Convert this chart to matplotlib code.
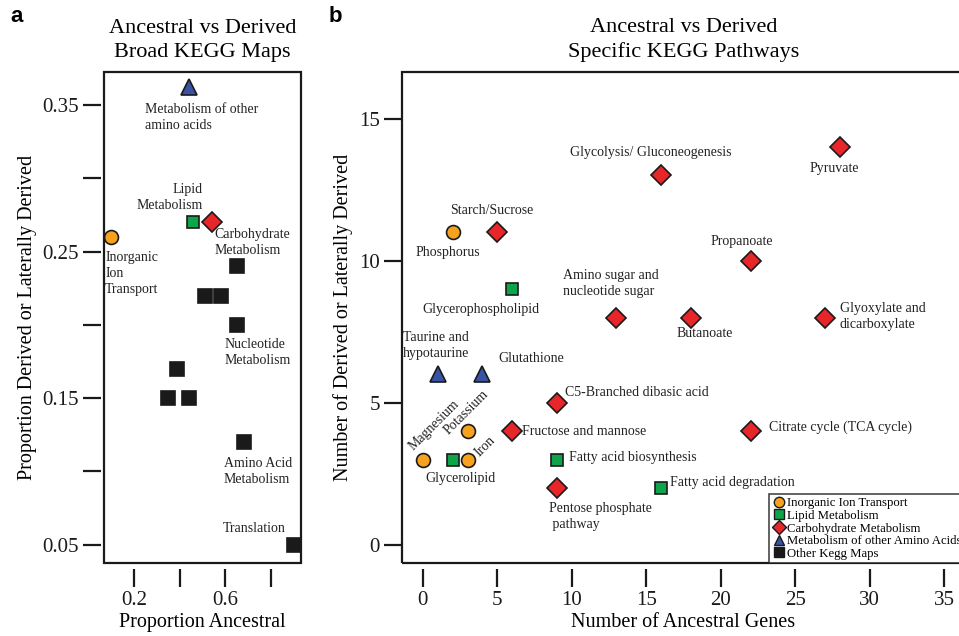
import matplotlib.pyplot as plt
from matplotlib.lines import Line2D
from matplotlib.patches import Rectangle

plt.rcParams['font.family'] = ['Liberation Serif', 'DejaVu Serif']

# colours per category
cat_colors = {'ion': '#F7A21E', 'lipid': '#0DA44A', 'carb': '#E8262A',
              'amino': '#3953A4', 'other': '#1A1A1A'}
cat_markers = {'ion': 'o', 'lipid': 's', 'carb': 'D', 'amino': '^', 'other': 's'}
cat_sizes = {'ion': 10, 'lipid': 9, 'carb': 10, 'amino': 12, 'other': 10}

# ---- panel a : broad KEGG maps ----
a_x = [0.10, 0.44, 0.46, 0.54, 0.65, 0.51, 0.58, 0.65, 0.39, 0.35, 0.44, 0.68, 0.90]
a_y = [0.26, 0.362, 0.27, 0.27, 0.24, 0.22, 0.22, 0.20, 0.17, 0.15, 0.15, 0.12, 0.05]
a_cat = ['ion', 'amino', 'lipid', 'carb', 'other', 'other', 'other', 'other',
         'other', 'other', 'other', 'other', 'other']
a_lab = ['Inorganic\nIon\nTransport', 'Metabolism of other\namino acids',
         'Lipid\nMetabolism', 'Carbohydrate\nMetabolism', '', '', '',
         'Nucleotide\nMetabolism', '', '', '', 'Amino Acid\nMetabolism', 'Translation']
# label offsets (pixels) and alignment
a_off = [(-6, -37, 'left'), (-44, -30, 'left'), (9, 25, 'right'), (3, -20, 'left'),
         None, None, None, (-12, -28, 'left'), None, None, None, (-20, -29, 'left'),
         (-71, 16, 'left')]

# ---- panel b : specific KEGG pathways ----
b_x = [28, 16, 5, 2, 22, 6, 13, 18, 27, 1, 4, 9, 6, 22, 3, 0, 3, 2, 9, 9, 16]
b_y = [14, 13, 11, 11, 10, 9, 8, 8, 8, 6, 6, 5, 4, 4, 4, 3, 3, 3, 3, 2, 2]
b_cat = ['carb', 'carb', 'carb', 'ion', 'carb', 'lipid', 'carb', 'carb', 'carb',
         'amino', 'amino', 'carb', 'carb', 'carb', 'ion', 'ion', 'ion', 'lipid',
         'lipid', 'carb', 'lipid']
b_lab = ['Pyruvate', 'Glycolysis/ Gluconeogenesis', 'Starch/Sucrose', 'Phosphorus',
         'Propanoate', 'Glycerophospholipid', 'Amino sugar and\nnucleotide sugar',
         'Butanoate', 'Glyoxylate and\ndicarboxylate', 'Taurine and\nhypotaurine',
         'Glutathione', 'C5-Branched dibasic acid', 'Fructose and mannose',
         'Citrate cycle (TCA cycle)', 'Potassium', 'Magnesium', 'Iron', 'Glycerolipid',
         'Fatty acid biosynthesis', 'Pentose phosphate\n pathway', 'Fatty acid degradation']
b_off = [(-6, -21, 'center', 0), (-10, 23, 'center', 0), (-6, 22, 'center', 0),
         (-5, -20, 'center', 0), (-9, 19, 'center', 0), (-31, -20, 'center', 0),
         (-53, 34, 'left', 0), (14, -16, 'center', 0), (15, 1, 'left', 0),
         (-35, 29, 'left', 0), (16, 16, 'left', 0), (8, 10, 'left', 0),
         (10, 0, 'left', 0), (18, 4, 'left', 0), (-1, 19, 'center', 45),
         (11, 34, 'center', 45), (18, 13, 'center', 45), (8, -19, 'center', 0),
         (12, 2, 'left', 0), (-8, -29, 'left', 0), (9, 5, 'left', 0)]

legend_names = ['Inorganic Ion Transport', 'Lipid Metabolism', 'Carbohydrate Metabolism',
                'Metabolism of other Amino Acids', 'Other Kegg Maps']
legend_cats = ['ion', 'lipid', 'carb', 'amino', 'other']


def draw_points(ax, xs, ys, cats):
    for x, y, c in zip(xs, ys, cats):
        ax.plot(x, y, marker=cat_markers[c], ms=cat_sizes[c], color=cat_colors[c],
                mec='#1a1a1a', mew=1.2, ls='none', zorder=3)


def style_axes(ax):
    for s in ax.spines.values():
        s.set_color('none')
    ax.spines['bottom'].set_position(('outward', 4))
    ax.spines['left'].set_position(('outward', 2))
    ax.add_patch(Rectangle((0, 0), 1, 1, transform=ax.transAxes, fill=False,
                           lw=1.6, ec='#1a1a1a', clip_on=False, zorder=5))
    ax.tick_params(direction='out', length=13, width=1.6, labelsize=15,
                   colors='#1a1a1a', pad=3)


fig = plt.figure(figsize=(9.59, 6.36), dpi=100)
ax1 = fig.add_axes([104 / 959, 73 / 636, 197 / 959, 491 / 636])
ax2 = fig.add_axes([402 / 959, 73 / 636, 563 / 959, 491 / 636])

# panel a
draw_points(ax1, a_x, a_y, a_cat)
for x, y, lab, off in zip(a_x, a_y, a_lab, a_off):
    if off is None:
        continue
    ax1.annotate(lab, (x, y), xytext=(off[0], off[1]), textcoords='offset pixels',
                 ha=off[2], va='center', fontsize=10, color='#222222',
                 linespacing=1.3, multialignment=off[2])
ax1.set_xlim(0.068, 0.932)
ax1.set_ylim(0.0376, 0.3724)
style_axes(ax1)
ax1.set_xticks([0.2, 0.4, 0.6, 0.8])
ax1.set_xticklabels(['0.2', '', '0.6', ''])
ax1.set_yticks([0.05, 0.10, 0.15, 0.20, 0.25, 0.30, 0.35])
ax1.set_yticklabels(['0.05', '', '0.15', '', '0.25', '', '0.35'])
ax1.set_xlabel('Proportion Ancestral', fontsize=14.5, labelpad=2)
ax1.set_ylabel('Proportion Derived or Laterally Derived', fontsize=14.5, labelpad=4)
ax1.set_title('Ancestral vs Derived\nBroad KEGG Maps', fontsize=16, pad=11,
              linespacing=1.35)

# panel b
draw_points(ax2, b_x, b_y, b_cat)
for x, y, lab, off in zip(b_x, b_y, b_lab, b_off):
    ax2.annotate(lab, (x, y), xytext=(off[0], off[1]), textcoords='offset pixels',
                 ha=off[2], va='center', fontsize=10, color='#222222',
                 rotation=off[3], rotation_mode='anchor' if off[3] == 0 else 'default',
                 linespacing=1.3, multialignment='left')
ax2.set_xlim(-1.4, 36.4)
ax2.set_ylim(-0.64, 16.64)
style_axes(ax2)
ax2.spines['left'].set_position(('outward', 0))
ax2.set_xticks([0, 5, 10, 15, 20, 25, 30, 35])
ax2.set_yticks([0, 5, 10, 15])
ax2.set_xlabel('Number of Ancestral Genes', fontsize=14.5, labelpad=2)
ax2.set_ylabel('Number of Derived or Laterally Derived', fontsize=14.5, labelpad=4)
ax2.set_title('Ancestral vs Derived\nSpecific KEGG Pathways', fontsize=16, pad=11,
              linespacing=1.35)

handles = [Line2D([], [], marker=cat_markers[c], color=cat_colors[c], mec='#1a1a1a',
                  mew=1.0, ls='none', ms=7.5) for c in legend_cats]
leg = ax2.legend(handles, legend_names, loc='lower right', fontsize=9.2,
                 borderaxespad=0, frameon=True, fancybox=False, handletextpad=0.15,
                 handlelength=1.0, labelspacing=0.05, borderpad=0.25)
leg.get_frame().set_edgecolor('#1a1a1a')
leg.get_frame().set_linewidth(1.2)

fig.text(10 / 959, 1 - 16 / 636, 'a', fontsize=16, fontweight='bold',
         family='Liberation Sans', va='center')
fig.text(329 / 959, 1 - 16 / 636, 'b', fontsize=16, fontweight='bold',
         family='Liberation Sans', va='center')

fig.savefig('out.png', dpi=100)
